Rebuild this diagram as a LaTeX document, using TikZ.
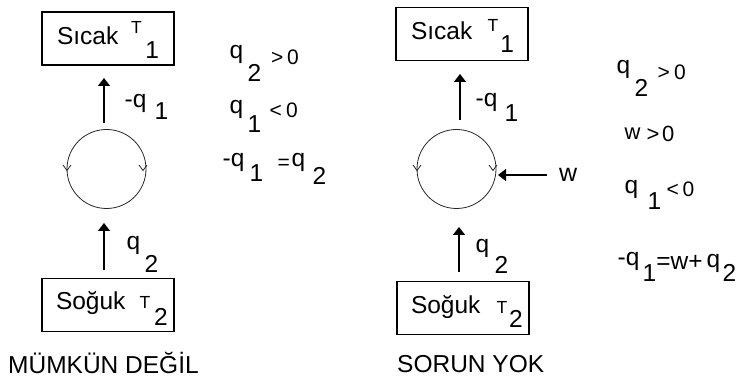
\documentclass[tikz,border=0pt]{standalone}
\usepackage{fontspec}
\setmainfont{Liberation Sans}
\usetikzlibrary{arrows.meta}
\newcommand\Bg{\fontsize{24.5}{28}\selectfont}
\newcommand\Sm{\fontsize{17.5}{20}\selectfont}
\newcommand\Md{\fontsize{21}{25}\selectfont}
\newcommand\Mx{\fontsize{22}{26}\selectfont}
% piece at (dx,dy) from node origin, dy positive = up
\newcommand\pc[3]{\rlap{\hspace*{#1pt}\raisebox{#2pt}{#3}}}
\tikzset{
  box/.style={draw, line width=1.2pt, minimum width=132pt, minimum height=53pt,
    inner sep=0pt, text height=0pt, text depth=0pt, font=\Bg},
  lab/.style={anchor=base west, inner sep=0pt, text height=0pt, text depth=0pt, font=\Bg},
  flow/.style={line width=1.3pt, -{Triangle[width=12pt,length=8pt]}},
  cyc/.style={line width=0.8pt, black!85},
}
\begin{document}
\begin{tikzpicture}[x=1pt,y=-1pt]
\useasboundingbox (0,0) rectangle (738,379);
% ---------- left panel ----------
\node[box] (hotL) at (108,38.5) {\pc{-51}{-6.5}{Sıcak}\pc{23}{5}{\Sm T}\pc{37.4}{-19.8}{1}};
\node[box] (coldL) at (108,305) {\pc{-52}{-4}{Soğuk}\pc{31.5}{-3}{\Sm T}\pc{46}{-20}{2}};
\coordinate (cL) at (106.5,169);
\draw[cyc] (cL) circle (39.5);
\draw[cyc] (63,165) -- (67,170.5) -- (71,165);
\draw[cyc] (139,165) -- (143,170.5) -- (147,165);
\coordinate (aLtop) at (104,123);
\coordinate (aLbot) at (104,270);
\draw[flow] (aLtop) -- ++(0,-45);
\draw[flow] (aLbot) -- ++(0,-47);
\node[lab] (mq1L) at (124,108) {\pc{0}{0}{-q}\pc{30}{-12}{1}};
\node[lab] (q2L) at (126,250) {\pc{0}{0}{q}\pc{18}{-22}{2}};
\node[lab] (e1L) at (229,59) {\pc{0}{0}{q}\pc{18}{-23}{2}\pc{41.5}{-6}{\Md >}\pc{57.5}{-6}{\Md 0}};
\node[lab] (e2L) at (229,114) {\pc{0}{0}{q}\pc{18}{-19}{1}\pc{40}{-4}{\Md <}\pc{56.5}{-4}{\Md 0}};
\node[lab] (e3L) at (222,167) {\pc{0}{0}{-q}\pc{27}{-15}{1}\pc{55}{-3}{\Md =}\pc{69}{0}{q}\pc{90}{-18}{2}};
\node[lab] (capL) at (8,373) {MÜMKÜN DEĞİL};
% ---------- right panel ----------
\node[box] (hotR) at (462,34) {\pc{-51}{-6}{Sıcak}\pc{25.5}{2}{\Sm T}\pc{38.4}{-19}{1}};
\node[box] (coldR) at (463,308) {\pc{-52}{-5}{Soğuk}\pc{33.5}{-5}{\Sm T}\pc{46}{-19}{2}};
\coordinate (cR) at (456.5,169);
\draw[cyc] (cR) circle (39.5);
\draw[cyc] (413,165) -- (417,170.5) -- (421,165);
\draw[cyc] (489,165) -- (493,170.5) -- (497,165);
\coordinate (aRtop) at (460,120);
\coordinate (aRbot) at (459,272);
\coordinate (wtail) at (547,175);
\draw[flow] (aRtop) -- ++(0,-46);
\draw[flow] (aRbot) -- ++(0,-45);
\draw[flow] (wtail) -- (498,175);
\node[lab] (wlab) at (559,182) {\fontsize{25}{30}\selectfont w};
\node[lab] (mq1R) at (475,107) {\pc{0}{0}{-q}\pc{29}{-15}{1}};
\node[lab] (q2R) at (475,252) {\pc{0}{0}{q}\pc{19}{-21}{2}};
\node[lab] (e1R) at (616,74) {\pc{0}{0}{q}\pc{18}{-23}{2}\pc{41}{-6}{\Md >}\pc{57.5}{-6}{\Md 0}};
\node[lab] (e2R) at (624,140) {\pc{0}{0}{\Mx w}\pc{22}{-2}{\Mx >}\pc{37.5}{-2}{\Mx 0}};
\node[lab] (e3R) at (624,194) {\pc{0}{0}{q}\pc{23}{-16}{1}\pc{42}{-3}{\Md <}\pc{58}{-3}{\Md 0}};
\node[lab] (e4R) at (617,265) {\pc{0}{0}{-q}\pc{25}{-17}{1}\pc{38.6}{-5}{=w+}\pc{89}{-2}{q}\pc{105}{-17}{2}};
\node[lab] (capR) at (397,372) {SORUN YOK};
\end{tikzpicture}
\end{document}
